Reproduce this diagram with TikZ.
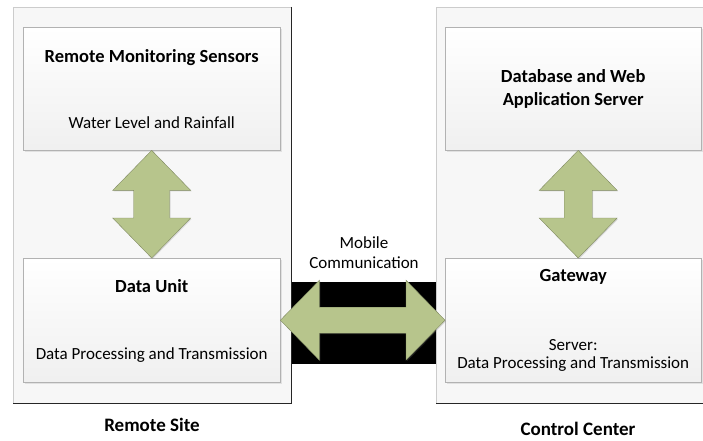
\documentclass[tikz,border=0pt]{standalone}
\usepackage{fontspec}
\setmainfont{Carlito}
\usetikzlibrary{positioning,calc,shadows}

\definecolor{leafgreen}{RGB}{183,197,140}
\definecolor{panelgray}{RGB}{247,247,247}

\tikzset{
  panel/.style={fill=panelgray, draw=gray!40, line width=0.6pt, anchor=north west, inner sep=0pt},
  rim/.style={draw=black!85, line width=1.6pt},
  unitbox/.style={draw=gray!60, top color=white, bottom color=gray!12, anchor=north west, inner sep=0pt,
    drop shadow={opacity=0.18, shadow xshift=1.5pt, shadow yshift=-1.8pt}},
  boxtitle/.style={font=\fontsize{18.5}{21}\selectfont\bfseries, align=center},
  boxtext/.style={font=\fontsize{17}{20}\selectfont, align=center},
  sitelabel/.style={font=\fontsize{19}{21}\selectfont\bfseries},
  linkarrow/.style={fill=leafgreen, draw=leafgreen!70!black, line width=0.4pt,
    drop shadow={opacity=0.25, shadow xshift=1pt, shadow yshift=-1pt}},
}

% vertical double block arrow: from tip, to tip, shaft half-width
\newcommand{\vlink}[3]{%
  \path[linkarrow] (#1) -- ++(39,40) -- ++(#3-39,0) -- ($(#2)+(#3,-40)$) -- ++(39-#3,0)
    -- (#2) -- ++(-39,-40) -- ++(39-#3,0) -- ($(#1)+(-#3,40)$) -- ++(#3-39,0) -- cycle;}
% horizontal double block arrow: from tip, to tip, shaft half-height
\newcommand{\hlink}[3]{%
  \path[linkarrow] (#1) -- ++(39,-40) -- ++(0,40-#3) -- ($(#2)+(-39,-#3)$) -- ++(0,#3-40)
    -- (#2) -- ++(-39,40) -- ++(0,#3-40) -- ($(#1)+(39,#3)$) -- ++(0,40-#3) -- cycle;}

\begin{document}
\begin{tikzpicture}[x=1pt,y=-1pt]
  \useasboundingbox (0,0) rectangle (703,441);

  % the two sites
  \node[panel, minimum width=278pt, minimum height=396pt] (remotesite) at (13,7) {};
  \node[panel, minimum width=280pt, minimum height=396pt] (controlcenter) at (436,7) {};
  \draw[rim] (remotesite.north east) -- (remotesite.south east) -- (remotesite.south west);
  \draw[rim] (controlcenter.south west) -- (controlcenter.south east);

  % units inside each site
  \node[unitbox, minimum width=257pt, minimum height=123pt] (sensors) at (23,27) {};
  \node[unitbox, minimum width=257pt, minimum height=124pt] (dataunit) at (23,258) {};
  \node[unitbox, minimum width=256pt, minimum height=123pt] (webserver) at (445,27) {};
  \node[unitbox, minimum width=256pt, minimum height=124pt] (gateway) at (445,258) {};

  \node[boxtitle, below=19pt of sensors.north] (sensorstitle) {Remote Monitoring Sensors};
  \node[boxtext, above=18pt of sensors.south] (sensorstext) {Water Level and Rainfall};
  \node[boxtitle, below=18pt of dataunit.north] (dataunittitle) {Data Unit};
  \node[boxtext, above=16.5pt of dataunit.south] (dataunittext) {Data Processing and Transmission};
  \node[boxtitle, font=\fontsize{18.5}{23}\selectfont\bfseries] (webservertitle) at (webserver) {Database and Web\\Application Server};
  \node[boxtitle, below=8pt of gateway.north] (gatewaytitle) {Gateway};
  \node[boxtext, font=\fontsize{17}{18.5}\selectfont, above=7pt of gateway.south] (gatewaytext) {Server:\\Data Processing and Transmission};

  % mobile link between the sites
  \fill[black] (remotesite.east |- 0,282) rectangle (controlcenter.west |- 0,364);
  \node[boxtext, font=\fontsize{17}{20}\selectfont] (mobile) at (364,253) {Mobile\\Communication};

  % block arrows
  \vlink{sensors.south}{dataunit.north}{18}
  \coordinate (webtip) at ([xshift=5pt]webserver.south);
  \coordinate (gatetip) at ([xshift=5pt]gateway.north);
  \vlink{webtip}{gatetip}{14}
  \hlink{dataunit.east}{gateway.west}{13}

  % site names
  \node[sitelabel] (remotelabel) at (152,425) {Remote Site};
  \node[sitelabel] (controllabel) at (578,429) {Control Center};
\end{tikzpicture}
\end{document}
